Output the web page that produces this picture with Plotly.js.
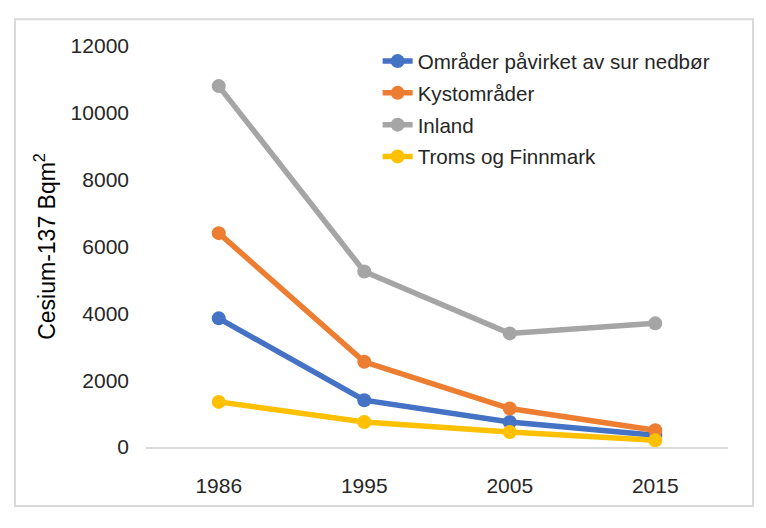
<!DOCTYPE html>
<html>
<head>
<meta charset="utf-8">
<script src="https://cdn.plot.ly/plotly-3.0.1.min.js"></script>
<style>
  html, body { margin: 0; padding: 0; background: #ffffff; }
  #chart { width: 766px; height: 528px; }
</style>
</head>
<body>
<div id="chart"></div>
<script>
const years = ["1986", "1995", "2005", "2015"];
const seriesNames = ["Områder påvirket av sur nedbør", "Kystområder", "Inland", "Troms og Finnmark"];
const surNedbor = [3850, 1400, 750, 350];
const kystomrader = [6400, 2550, 1150, 500];
const inland = [10800, 5250, 3400, 3700];
const tromsFinnmark = [1350, 750, 450, 200];
const yTicks = [0, 2000, 4000, 6000, 8000, 10000, 12000];

const colors = ["#4472C4", "#ED7D31", "#A5A5A5", "#FFC000"];
const allValues = [surNedbor, kystomrader, inland, tromsFinnmark];

const traces = allValues.map((vals, i) => ({
  type: "scatter",
  mode: "lines+markers",
  name: seriesNames[i],
  x: years,
  y: vals,
  legendgroup: "g" + i,
  line: { color: colors[i], width: 5.5 },
  marker: { color: colors[i], size: 14 }
}));

const layout = {
  width: 766,
  height: 528,
  paper_bgcolor: "#ffffff",
  plot_bgcolor: "#ffffff",
  margin: { l: 146, r: 38, t: 46, b: 81 },
  showlegend: true,
  legend: {
    x: 0.398, y: 1.012, xanchor: "left", yanchor: "top",
    bgcolor: "rgba(0,0,0,0)",
    font: { family: "Liberation Sans, Arial, sans-serif", size: 20.6, color: "#262626" },
    tracegroupgap: 2,
    itemwidth: 30
  },
  xaxis: {
    type: "category",
    range: [-0.5, 3.5],
    showgrid: false,
    zeroline: false,
    showline: true,
    linecolor: "#D9D9D9",
    linewidth: 2,
    ticks: "",
    ticklabelstandoff: 19,
    tickfont: { family: "Liberation Sans, Arial, sans-serif", size: 21, color: "#262626" },
    fixedrange: true
  },
  yaxis: {
    range: [0, 12000],
    tickvals: yTicks,
    ticktext: yTicks.map(String),
    showgrid: false,
    zeroline: false,
    showline: false,
    ticks: "",
    ticklabelstandoff: 16,
    tickfont: { family: "Liberation Sans, Arial, sans-serif", size: 21, color: "#262626" },
    title: {
      text: "Cesium-137 Bqm<sup>2</sup>",
      font: { family: "Liberation Sans, Arial, sans-serif", size: 23, color: "#000000" },
      standoff: 8
    },
    automargin: false,
    fixedrange: true
  },
  shapes: [{
    type: "rect", xref: "paper", yref: "paper",
    x0: -0.225, x1: 1.043, y0: -0.147, y1: 1.067,
    line: { color: "#D9D9D9", width: 2 },
    fillcolor: "rgba(0,0,0,0)",
    layer: "below"
  }]
};

Plotly.newPlot("chart", traces, layout, { displayModeBar: false, staticPlot: true });
</script>
</body>
</html>
